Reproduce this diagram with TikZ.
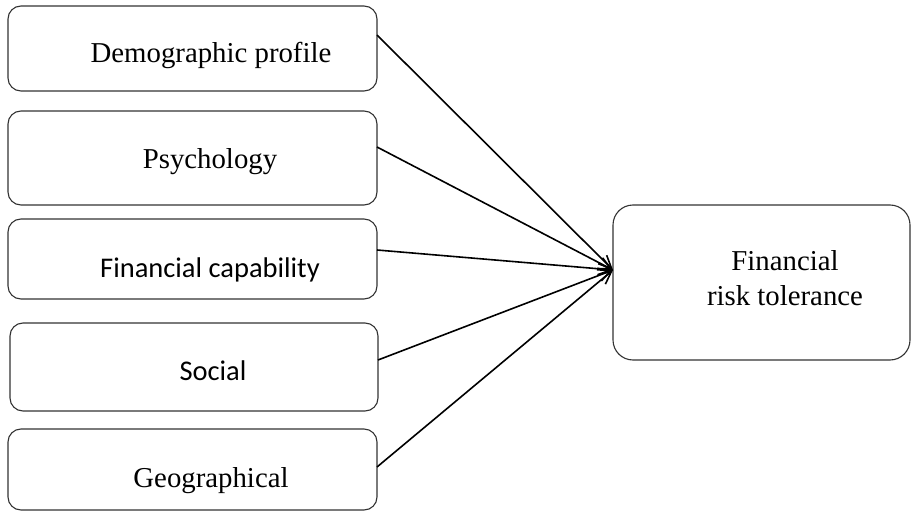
\documentclass[tikz,border=0pt]{standalone}
\usepackage{fontspec}
\setmainfont{Liberation Serif}
\newfontfamily\calibrifont{Carlito}
\usetikzlibrary{arrows.meta}
\begin{document}
\begin{tikzpicture}[x=1pt,y=-1pt,
  box/.style={draw=black!80,line width=1.1pt,rounded corners=13pt,inner sep=0pt,outer sep=0pt,minimum width=369pt},
  bigbox/.style={draw=black!80,line width=1.1pt,rounded corners=20pt,inner sep=0pt,outer sep=0pt,minimum width=297pt,minimum height=155pt},
  lbl/.style={anchor=base,inner sep=0pt,font=\fontsize{28.8}{34}\selectfont},
  slbl/.style={anchor=base,inner sep=0pt,font=\calibrifont\fontsize{28.5}{34}\selectfont},
  arr/.style={line width=1.6pt,-{Straight Barb[length=13pt,width=12pt,line width=1.6pt]}}]
\useasboundingbox (0,0) rectangle (911,511);
\node[box,minimum height=85pt] (b1) at (192.5,48.5) {};
\node[box,minimum height=94pt] (b2) at (192.5,158) {};
\node[box,minimum height=80pt] (b3) at (192.5,259) {};
\node[box,minimum height=88pt,minimum width=368pt] (b4) at (194,367) {};
\node[box,minimum height=81pt] (b5) at (192.5,469.5) {};
\node[bigbox] (fr) at (761.5,282.5) {};
\node[lbl] (t1) at (211,63) {Demographic profile};
\node[lbl] (t2) at (210,168) {Psychology};
\node[slbl] (t3) at (210,277) {Financial capability};
\node[slbl] (t4) at (213,380) {Social};
\node[lbl] (t5) at (211,487) {Geographical};
\node[lbl] (t6) at (785,270) {Financial};
\node[lbl] (t7) at (785,305) {risk tolerance};
\coordinate (tgt) at ([yshift=12.5pt]fr.west);
\draw[arr] ([yshift=13.5pt]b1.east) -- (tgt);
\draw[arr] ([yshift=11pt]b2.east) -- (tgt);
\draw[arr] ([yshift=9pt]b3.east) -- (tgt);
\draw[arr] ([yshift=7pt]b4.east) -- (tgt);
\draw[arr] ([yshift=2.5pt]b5.east) -- (tgt);
\end{tikzpicture}
\end{document}
